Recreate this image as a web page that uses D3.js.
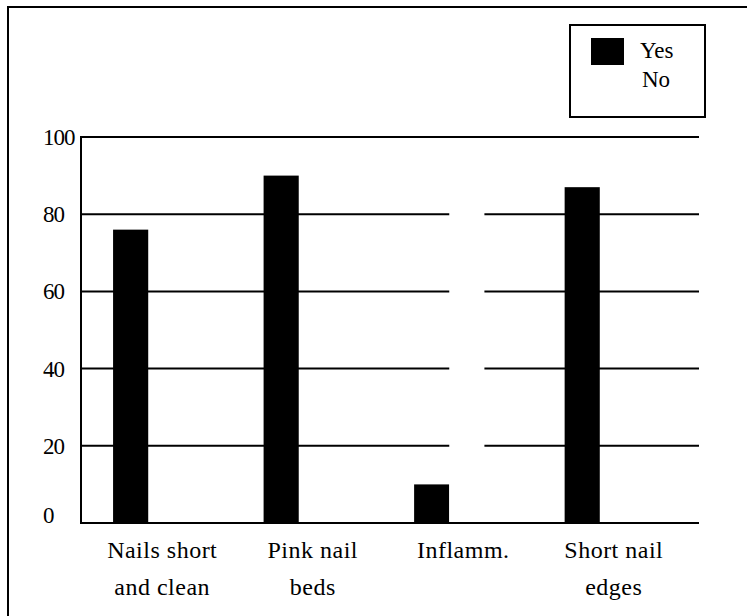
<!DOCTYPE html>
<html>
<head>
<meta charset="utf-8">
<script src="https://cdn.jsdelivr.net/npm/d3@7"></script>
<style>
  body { margin: 0; background: #fff; }
</style>
</head>
<body>
<div id="chart"></div>
<script>
// chart values
var categories = [["Nails short", "and clean"], ["Pink nail", "beds"], ["Inflamm."], ["Short nail", "edges"]];
var yesValues = [76, 90, 10, 87];
var noValues = [0, 0, 90, 0];
var yTicks = [0, 20, 40, 60, 80, 100];
var seriesNames = ["Yes", "No"];

var svgWidth = 747;
var svgHeight = 616;
var serif = "'Liberation Serif', 'DejaVu Serif', serif";

var svg = d3.select("#chart")
  .append("svg")
  .attr("width", svgWidth)
  .attr("height", svgHeight)
  .attr("font-family", serif);

// frame around the figure
svg.append("line")
  .attr("x1", 8).attr("y1", 7).attr("x2", 8).attr("y2", svgHeight)
  .attr("stroke", "#000").attr("stroke-width", 2);
svg.append("line")
  .attr("x1", 7).attr("y1", 7).attr("x2", svgWidth).attr("y2", 7)
  .attr("stroke", "#000").attr("stroke-width", 2);

var plotLeft = 81;
var plotRight = 699;

var yScale = d3.scaleLinear()
  .domain([0, 100])
  .range([523, 137]);

var keys = categories.map(d => d.join(" "));

var xScale = d3.scaleBand()
  .domain(keys)
  .range([78, 670])
  .paddingInner(0.533)
  .paddingOuter(0.233);

var subScale = d3.scaleBand()
  .domain(seriesNames)
  .range([0, xScale.bandwidth()]);

// grid lines
svg.append("g")
  .selectAll("line")
  .data(yTicks.filter(d => d > 0))
  .enter()
  .append("line")
  .attr("x1", plotLeft)
  .attr("x2", plotRight)
  .attr("y1", d => yScale(d))
  .attr("y2", d => yScale(d))
  .attr("stroke", "#000")
  .attr("stroke-width", 2);

// tick labels
svg.append("g")
  .selectAll("text")
  .data(yTicks)
  .enter()
  .append("text")
  .attr("x", 43)
  .attr("y", d => yScale(d) - (d === 0 ? 8 : 0))
  .attr("dy", "0.35em")
  .attr("font-family", serif)
  .attr("font-size", "23px")
  .attr("letter-spacing", "-1px")
  .text(d => d);

var rows = keys.map((k, i) => ({ key: k, Yes: yesValues[i], No: noValues[i] }));

// bars
var groups = svg.append("g")
  .selectAll("g")
  .data(rows)
  .enter()
  .append("g")
  .attr("transform", d => `translate(${xScale(d.key)},0)`);

groups.selectAll("rect")
  .data(d => seriesNames.map(s => ({ series: s, value: d[s] })))
  .enter()
  .append("rect")
  .attr("x", d => subScale(d.series))
  .attr("width", subScale.bandwidth())
  .attr("y", d => yScale(d.value))
  .attr("height", d => yScale(0) - yScale(d.value))
  .attr("fill", d => d.series === "Yes" ? "#000" : "#fff");

// axis lines
svg.append("line")
  .attr("x1", plotLeft).attr("x2", plotLeft)
  .attr("y1", yScale(100) - 1).attr("y2", yScale(0) + 1)
  .attr("stroke", "#000").attr("stroke-width", 2);
svg.append("line")
  .attr("x1", plotLeft).attr("x2", plotRight)
  .attr("y1", yScale(0)).attr("y2", yScale(0))
  .attr("stroke", "#000").attr("stroke-width", 2);

// category labels
var labels = svg.append("g")
  .selectAll("text")
  .data(categories)
  .enter()
  .append("text")
  .attr("x", (d, i) => xScale(keys[i]) + xScale.bandwidth() / 2 + 14)
  .attr("y", 558)
  .attr("text-anchor", "middle")
  .attr("font-family", serif)
  .attr("font-size", "24px")
  .attr("letter-spacing", "0.5px");

labels.selectAll("tspan")
  .data(d => d)
  .enter()
  .append("tspan")
  .attr("x", function() { return d3.select(this.parentNode).attr("x"); })
  .attr("dy", (d, i) => i === 0 ? 0 : 37)
  .text(d => d);

// legend
var legend = svg.append("g");
legend.append("rect")
  .attr("x", 570).attr("y", 25)
  .attr("width", 135).attr("height", 92)
  .attr("fill", "#fff").attr("stroke", "#000").attr("stroke-width", 2);
legend.append("rect")
  .attr("x", 591).attr("y", 38)
  .attr("width", 33).attr("height", 27)
  .attr("fill", "#000");
legend.selectAll("text.leg")
  .data(seriesNames)
  .enter()
  .append("text")
  .attr("class", "leg")
  .attr("x", (d, i) => i === 0 ? 640 : 642)
  .attr("y", (d, i) => 58 + i * 29)
  .attr("font-family", serif)
  .attr("font-size", "23px")
  .text(d => d);
</script>
</body>
</html>
